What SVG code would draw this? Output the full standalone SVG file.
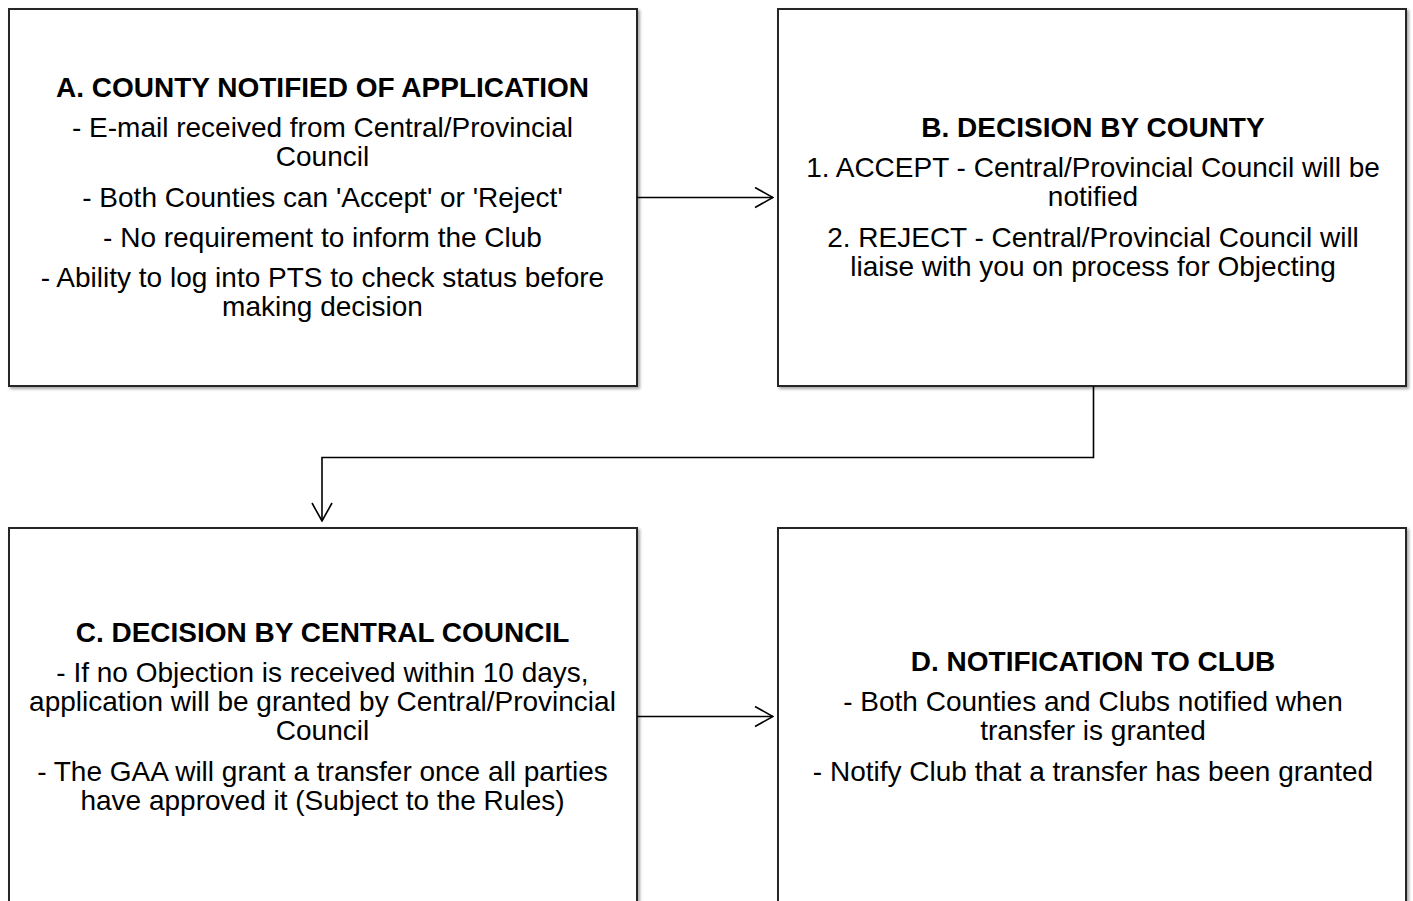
<svg xmlns="http://www.w3.org/2000/svg" width="1413" height="901" viewBox="0 0 1413 901">
<defs>
<style>
.box{fill:#ffffff;stroke:#262626;stroke-width:2;filter:url(#sh)}
.t{font-family:"Liberation Sans",Arial,sans-serif;font-size:28px;fill:#000;text-anchor:middle}
.h{font-weight:bold}
.conn{fill:none;stroke:#000;stroke-width:1.6}
</style>
<filter id="sh" x="-5%" y="-5%" width="110%" height="110%">
<feDropShadow dx="2" dy="2" stdDeviation="1.5" flood-color="#000" flood-opacity="0.35"/>
</filter>
<marker id="ah" viewBox="0 0 20 22" refX="19" refY="11" markerWidth="20" markerHeight="22" markerUnits="userSpaceOnUse" orient="auto">
<path d="M1,1 L19,11 L1,21" fill="none" stroke="#000" stroke-width="1.6"/>
</marker>
</defs>
<rect width="1413" height="901" fill="#ffffff"/>
<g id="nodeA">
<rect class="box" x="9" y="9" width="628" height="377"/>
<text class="t h" x="322.5" y="97">A. COUNTY NOTIFIED OF APPLICATION</text>
<text class="t" x="322.5" y="137">- E-mail received from Central/Provincial</text>
<text class="t" x="322.5" y="166">Council</text>
<text class="t" x="322.5" y="207">- Both Counties can 'Accept' or 'Reject'</text>
<text class="t" x="322.5" y="247">- No requirement to inform the Club</text>
<text class="t" x="322.5" y="287">- Ability to log into PTS to check status before</text>
<text class="t" x="322.5" y="316">making decision</text>
</g>
<g id="nodeB">
<rect class="box" x="778" y="9" width="628" height="377"/>
<text class="t h" x="1093" y="137">B. DECISION BY COUNTY</text>
<text class="t" x="1093" y="177">1. ACCEPT - Central/Provincial Council will be</text>
<text class="t" x="1093" y="206">notified</text>
<text class="t" x="1093" y="247">2. REJECT - Central/Provincial Council will</text>
<text class="t" x="1093" y="276">liaise with you on process for Objecting</text>
</g>
<g id="nodeC">
<rect class="box" x="9" y="528" width="628" height="400"/>
<text class="t h" x="322.5" y="642">C. DECISION BY CENTRAL COUNCIL</text>
<text class="t" x="322.5" y="682">- If no Objection is received within 10 days,</text>
<text class="t" x="322.5" y="711">application will be granted by Central/Provincial</text>
<text class="t" x="322.5" y="740">Council</text>
<text class="t" x="322.5" y="781">- The GAA will grant a transfer once all parties</text>
<text class="t" x="322.5" y="810">have approved it (Subject to the Rules)</text>
</g>
<g id="nodeD">
<rect class="box" x="778" y="528" width="628" height="400"/>
<text class="t h" x="1093" y="671">D. NOTIFICATION TO CLUB</text>
<text class="t" x="1093" y="711">- Both Counties and Clubs notified when</text>
<text class="t" x="1093" y="740">transfer is granted</text>
<text class="t" x="1093" y="781">- Notify Club that a transfer has been granted</text>
</g>
<g id="connectors">
<path class="conn" d="M637,197.5 L773,197.5" marker-end="url(#ah)"/>
<path class="conn" d="M1093.5,386 L1093.5,457.5 L322,457.5 L322,521" marker-end="url(#ah)"/>
<path class="conn" d="M637,716.5 L773,716.5" marker-end="url(#ah)"/>
</g>
</svg>
